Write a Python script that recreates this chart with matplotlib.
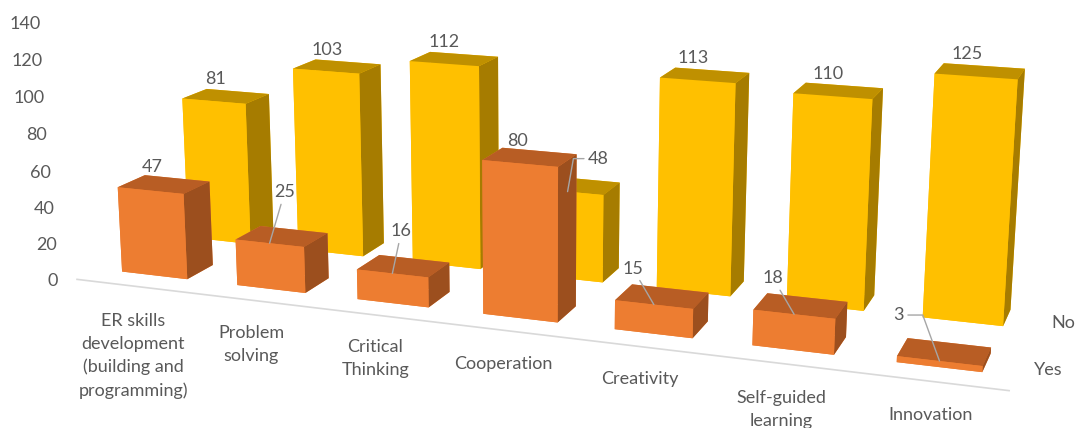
#!/usr/bin/env python3
# 3D bars of the skills, yes / no answers
import matplotlib
matplotlib.use('Agg')
import matplotlib.pyplot as plt
from mpl_toolkits.mplot3d import proj3d

categories = ['ER skills\ndevelopment\n(building and\nprogramming)', 'Problem\nsolving',
              'Critical\nThinking', 'Cooperation', 'Creativity', 'Self-guided\nlearning', 'Innovation']
yes_values = [47, 25, 16, 80, 15, 18, 3]
no_values = [81, 103, 112, 48, 113, 110, 125]
z_ticks = [0, 20, 40, 60, 80, 100, 120, 140]
series_names = ['Yes', 'No']

plt.rcParams['font.family'] = ['Lato', 'DejaVu Sans']
text_col = '#595959'
line_col = '#A6A6A6'
fs = 13

W, H = 1083, 428
fig = plt.figure(figsize=(W / 100, H / 100), dpi=100)
# view numbers fitted against the bar corners of the picture
ax = fig.add_axes([36.82 / W, -248.15 / H, 999.07 / W, 999.07 / H], projection='3d')
ax.computed_zorder = False
ax.set_proj_type('persp', focal_length=0.3752)
ax.view_init(elev=14.04, azim=-70.14, roll=-0.107)
ax.set_box_aspect((8.7684, 2.5476, 2.5116))
ax.set_xlim(0, 7)
ax.set_ylim(0, 2)
ax.set_zlim(0, 140)
ax.set_axis_off()

w = 0.5711
d = 0.3895
row_off = 0.3891
orange = ['#ED7D31', '#B85D24', '#ED7D31', '#ED7D31', '#ED7D31', '#9C4F1E']
yellow = ['#FFC000', '#BF9000', '#FFC000', '#FFC000', '#FFC000', '#A67C00']

# floor line under the front row
ax.plot([0, 7], [0.1, 0.1], [0, 0], color='#D9D9D9', lw=1.2, zorder=0, clip_on=False)

z = 1
for row, vals, cols in ((1, no_values, yellow), (0, yes_values, orange)):
    for i, v in enumerate(vals):
        bars = ax.bar3d(i + (1 - w) / 2, row + row_off, 0, w, d, v, color=cols, shade=False,
                        zorder=z, edgecolor='none')
        bars.set_clip_on(False)
        z += 1

M = ax.get_proj()


def label(txt, x, y, zz, off, ha='center', va='center', **kw):
    u, v, _ = proj3d.proj_transform(x, y, zz, M)
    off = (off[0], off[1] - 2)
    ax.annotate(txt, xy=(u, v), xycoords='data', xytext=off, textcoords='offset pixels',
                ha=ha, va=va, fontsize=fs, color=text_col, annotation_clip=False, zorder=100, **kw)


def leader(style='arc3'):
    return dict(arrowstyle='-', color=line_col, lw=1, shrinkA=1, shrinkB=0, connectionstyle=style)


yes_off = [(2, 26), (15, 53), (9, 44), (-2, 24), (-21, 38), (-21, 38), (-41, 48)]
no_off = [(2, 24), (1, 23), (0, 24), (31, 35), (-4, 24), (-5, 24), (-9, 24)]
cat_off = [(6, -64), (5, -38), (5, -37), (3, -27), (3, -26), (2, -39), (1, -27)]
tick_off = [(-12, 4), (-11, 4), (-11, 3), (-12, 2), (-14, 3), (-14, 2), (-14, 1), (-14, 0)]
ser_off = [(29, -2), (26, 0)]

for i, v in enumerate(yes_values):
    kw = {}
    if i in (1, 2, 4, 5):
        kw['arrowprops'] = leader()
    if i == 6:
        kw['arrowprops'] = leader('angle,angleA=0,angleB=110,rad=0')
    label(str(v), i + 0.5, row_off, v, yes_off[i], **kw)
for i, v in enumerate(no_values):
    kw = {}
    if i == 3:
        kw['arrowprops'] = leader('angle,angleA=0,angleB=80,rad=0')
    label(str(v), i + 0.5, 1 + row_off, v, no_off[i], **kw)

for t, off in zip(z_ticks, tick_off):
    label(str(t), 0, 0, t, off, ha='right')
for i, c in enumerate(categories):
    label(c, i + 0.5, 0, 0, cat_off[i], linespacing=1.5)
for row, s in enumerate(series_names):
    label(s, 7, row + row_off + d / 2, 0, ser_off[row])

fig.savefig('out.png', dpi=100)
